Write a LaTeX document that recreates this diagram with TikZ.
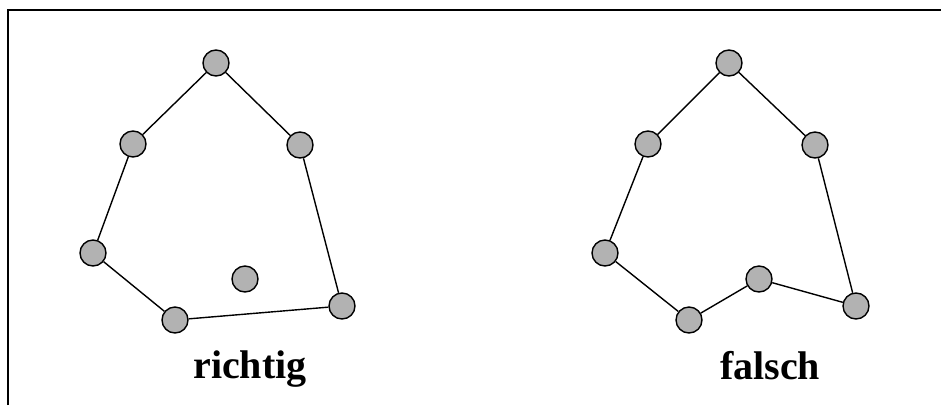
\documentclass[tikz,border=0pt]{standalone}
\usepackage{fontspec}
\setmainfont{Liberation Serif}
\begin{document}
\begin{tikzpicture}[x=1pt,y=-1pt,
  vertex/.style={circle,draw=black,line width=1.4pt,fill=black!30,minimum size=26pt,inner sep=0pt},
  edge/.style={line width=1.4pt},
  caption/.style={font=\bfseries\fontsize{40}{42}\selectfont,anchor=base}]
\useasboundingbox (0,0) rectangle (941,405);
% open frame: top and left sides only
\draw[line width=1.8pt] (8,405) -- (8,10) -- (945,10);

% correct hull
\node[vertex] (a1) at (216,63) {};
\node[vertex] (a2) at (133,144) {};
\node[vertex] (a3) at (300,145) {};
\node[vertex] (a4) at (93,253) {};
\node[vertex] (a5) at (175,320) {};
\node[vertex] (a6) at (245,279) {};
\node[vertex] (a7) at (342,306) {};
\draw[edge] (a1) -- (a2) (a1) -- (a3) (a2) -- (a4) (a4) -- (a5) (a5) -- (a7) (a7) -- (a3);
\node[caption] (l1) at (250,378) {richtig};

% wrong hull
\node[vertex] (b1) at (729,63) {};
\node[vertex] (b2) at (648,144) {};
\node[vertex] (b3) at (815,145) {};
\node[vertex] (b4) at (605,253) {};
\node[vertex] (b5) at (689,320) {};
\node[vertex] (b6) at (759,279) {};
\node[vertex] (b7) at (856,306) {};
\draw[edge] (b1) -- (b2) (b1) -- (b3) (b2) -- (b4) (b4) -- (b5) (b5) -- (b6) (b6) -- (b7) (b7) -- (b3);
\node[caption] (l2) at (770,379) {falsch};
\end{tikzpicture}
\end{document}
